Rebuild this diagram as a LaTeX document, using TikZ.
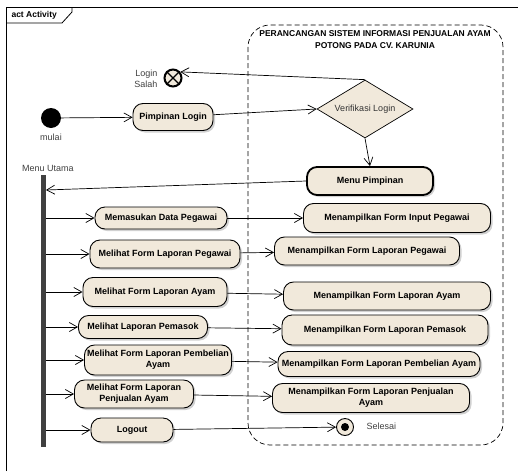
\documentclass[tikz,border=0pt]{standalone}
\usepackage{fontspec}
\setmainfont{Liberation Sans}
\usetikzlibrary{shapes.geometric,arrows.meta,shadows}
\definecolor{actfill}{RGB}{241,233,219}
\begin{document}
\begin{tikzpicture}[x=1pt, y=-1pt, >={Straight Barb[length=8pt,width=9pt]},
  act node/.style={rectangle, rounded corners=10pt, draw, line width=.9pt, fill=actfill, align=center,
    font=\fontsize{9}{11}\selectfont\bfseries, inner xsep=2pt, inner ysep=0pt,
    drop shadow={shadow xshift=2pt, shadow yshift=-2pt, fill=black!30, opacity=.6}},
  lbl/.style={font=\fontsize{9}{11}\selectfont, text=black!75, align=right},
  flow/.style={->, line width=.7pt}]
\useasboundingbox (0,0) rectangle (518,471);
% frame
\draw[line width=.8pt] (6,471) -- (6,7) -- (518,7);
\draw[line width=.8pt] (6,23) -- (62,23) -- (72,12) -- (72,7);
\node[anchor=west, font=\fontsize{8.5}{10}\selectfont\bfseries] (actlbl) at (8,15) {act Activity};
% partition
\draw[dash pattern=on 5pt off 3pt, line width=.7pt, rounded corners=22pt] (248,25) rectangle (503,445);
\node[font=\fontsize{8.5}{12}\selectfont\bfseries, align=center] (judul) at (375,40)
  {PERANCANGAN SISTEM INFORMASI PENJUALAN AYAM\\POTONG PADA CV. KARUNIA};

\node[circle, fill=black, minimum size=20pt, inner sep=0pt] (start) at (51,118) {};
\node[lbl] (mulai) at (51,137) {mulai};
\node[circle, draw, line width=2pt, fill=actfill, minimum size=17pt, inner sep=0pt] (lsalah) at (173,78) {};
\draw[line width=1.1pt] (lsalah.45) -- (lsalah.225) (lsalah.135) -- (lsalah.315);
\node[lbl, anchor=east] (lsalahlbl) at (161,79) {Login\\Salah};
\node[act node, minimum width=80pt, minimum height=27pt] (pimlogin) at (173,117) {Pimpinan Login};
\node[diamond, draw, line width=.7pt, fill=actfill, minimum width=96pt, minimum height=58pt, aspect=1.65,
  inner sep=0pt, font=\fontsize{9}{11}\selectfont, text=black!80] (verif) at (365,109) {Verifikasi Login};
\node[act node, line width=1.8pt, minimum width=126pt, minimum height=28pt] (menupim) at (370,181) {Menu Pimpinan};

% menu utama
\node[rectangle, fill=black!75, minimum width=5pt, minimum height=272pt, inner sep=0pt] (bar) at (43,311) {};
\node[lbl] (menulbl) at (48,168) {Menu Utama};
\coordinate (barin) at (46,190);

\begin{scope}[every node/.style={act node}]
\node[minimum width=132pt, minimum height=22pt] (mdp) at (161,218) {Memasukan Data Pegawai};
\node[minimum width=150pt, minimum height=28pt] (mflpeg) at (165,254) {Melihat Form Laporan Pegawai};
\node[minimum width=144pt, minimum height=29pt] (mflayam) at (155,292) {Melihat Form Laporan Ayam};
\node[minimum width=129pt, minimum height=23pt] (mlpem) at (143,327) {Melihat Laporan Pemasok};
\node[minimum width=147pt, minimum height=30pt] (mflpemb) at (158,360) {Melihat Form Laporan Pembelian\\Ayam};
\node[minimum width=119pt, minimum height=28pt] (mflpenj) at (134,394) {Melihat Form Laporan\\Penjualan Ayam};
\node[minimum width=82pt, minimum height=24pt] (logout) at (132,430) {Logout};
\node[minimum width=187pt, minimum height=29pt] (tfip) at (397,218) {Menampilkan Form Input Pegawai};
\node[minimum width=185pt, minimum height=28pt] (tflpeg) at (367,251) {Menampilkan Form Laporan Pegawai};
\node[minimum width=207pt, minimum height=28pt] (tflayam) at (387,296) {Menampilkan Form Laporan Ayam};
\node[minimum width=206pt, minimum height=30pt] (tflpem) at (385,330) {Menampilkan Form Laporan Pemasok};
\node[minimum width=202pt, minimum height=25pt] (tflpemb) at (379,364) {Menampilkan Form Laporan Pembelian Ayam};
\node[minimum width=197pt, minimum height=29pt] (tflpenj) at (371,398) {Menampilkan Form Laporan Penjualan\\Ayam};
\end{scope}

\node[circle, draw, line width=.9pt, fill=actfill, minimum size=17pt, inner sep=0pt] (selesai) at (345,427) {};
\node[circle, fill=black, minimum size=8pt, inner sep=0pt] (selesaiin) at (selesai.center) {};
\node[lbl, anchor=west] (selesailbl) at (363,426) {Selesai};

\path[flow]
  (start) edge (pimlogin)
  (pimlogin) edge (verif.west)
  (verif.north) edge (lsalah.40)
  (verif.south) edge (menupim.north)
  (menupim.west) edge (barin)
  (bar.east |- mdp.west) edge (mdp.west)
  (bar.east |- mflpeg.west) edge (mflpeg.west)
  (bar.east |- mflayam.west) edge (mflayam.west)
  (bar.east |- mlpem.west) edge (mlpem.west)
  (bar.east |- mflpemb.west) edge (mflpemb.west)
  (bar.east |- mflpenj.west) edge (mflpenj.west)
  (bar.east |- logout.west) edge (logout.west)
  (mdp) edge (tfip)
  (mflpeg) edge (tflpeg)
  (mflayam) edge (tflayam)
  (mlpem) edge (tflpem)
  (mflpemb) edge (tflpemb)
  (mflpenj) edge (tflpenj)
  (logout) edge (selesai)
  ;
\end{tikzpicture}
\end{document}
